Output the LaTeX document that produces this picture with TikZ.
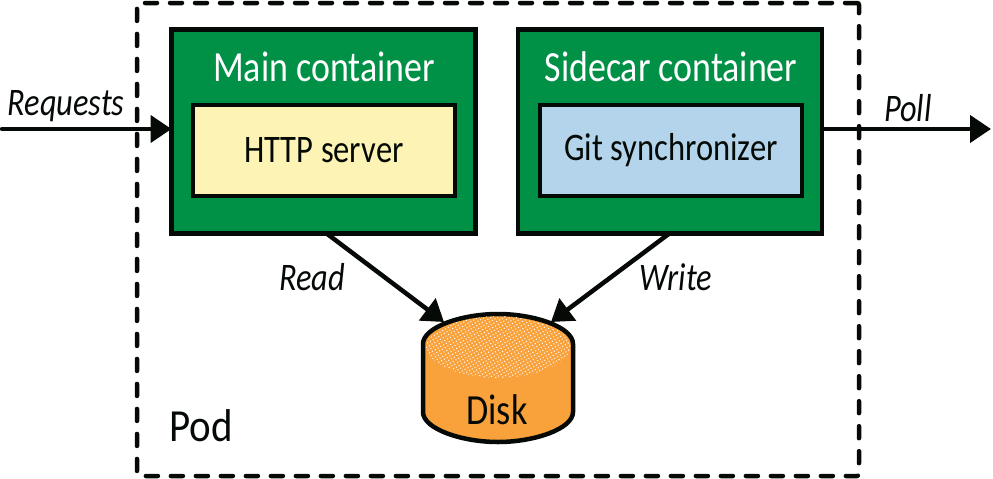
\documentclass[tikz,border=0pt]{standalone}
\usepackage{fontspec}
\setmainfont{Carlito}
\usetikzlibrary{arrows.meta,patterns.meta}
\definecolor{podgreen}{HTML}{009147}
\definecolor{httpyellow}{HTML}{FDF3B4}
\definecolor{gitblue}{HTML}{B3D4EA}
\definecolor{diskorange}{HTML}{F9A23C}
\definecolor{inkblack}{HTML}{050A07}
\tikzset{
  every node/.style={inner sep=0pt,outer sep=0pt,text=inkblack},
  outerbox/.style={draw=inkblack,line width=4.5pt,fill=podgreen,minimum width=304pt,minimum height=204pt,anchor=north west},
  innerbox/.style={draw=inkblack,line width=4.5pt,minimum width=262pt,minimum height=91pt,font=\fontsize{39}{43}\selectfont\addfontfeature{FakeStretch=0.835}},
  title/.style={text=white,font=\fontsize{43}{47}\selectfont\addfontfeature{FakeStretch=0.835}},
  lab/.style={font=\itshape\fontsize{39}{43}\selectfont\addfontfeature{FakeStretch=0.83}},
  conn/.style={draw=inkblack,line width=4.5pt,line cap=round,-{Triangle[length=21pt,width=27pt]}},
}
\begin{document}
\begin{tikzpicture}[x=1pt,y=-1pt]
\useasboundingbox (0,0) rectangle (993,479);
% pod
\node[draw=inkblack,line width=4.5pt,dash pattern=on 12pt off 13pt,rounded corners=2pt,line cap=round,minimum width=722pt,minimum height=473pt,anchor=north west] (pod) at (137,3) {};
% containers
\node[outerbox] (main) at (171.5,29.5) {};
\node[outerbox] (side) at (518,29.5) {};
\node[title] (maint) at (324,67) {Main container};
\node[title] (sidet) at (671,67) {Sidecar container};
\node[innerbox,fill=httpyellow] (http) at (324,150.5) {HTTP server};
\node[innerbox,fill=gitblue] (git) at (671,150.5) {Git synchronizer};
% disk
\path[draw=inkblack,line width=4.5pt,fill=diskorange,line join=round]
  (423,344) .. controls (423,327) and (462,314) .. (498,314)
  .. controls (534,314) and (573,327) .. (573,344)
  -- (573,412) .. controls (573,429) and (534,442) .. (498,442)
  .. controls (462,442) and (423,429) .. (423,412) -- cycle;
\path[pattern={Dots[radius=0.75pt,distance=3.2pt,angle=30]},pattern color=white]
  (426,347) .. controls (426,330) and (462,316) .. (498,316)
  .. controls (534,316) and (570,330) .. (570,347)
  .. controls (570,364) and (534,378) .. (498,378)
  .. controls (462,378) and (426,364) .. (426,347) -- cycle;
\node[font=\fontsize{43}{47}\selectfont\addfontfeature{FakeStretch=0.84}] (disk) at (497,410) {Disk};
\coordinate (diskl) at (444,322);
\coordinate (diskr) at (551,322);
% connectors
\coordinate (reqs) at (2,129);
\coordinate (polle) at (991,129);
\draw[conn] (reqs) -- (reqs -| main.west);
\draw[conn] (polle -| side.east) -- (polle);
\coordinate (mb) at (326,233);
\coordinate (sb) at (670,233);
\draw[conn] (mb) -- (diskl);
\draw[conn] (sb) -- (diskr);
% labels
\node[lab] (lreq) at (66,106) {Requests};
\node[lab] (lpoll) at (908,108) {Poll};
\node[lab] (lread) at (312,277) {Read};
\node[lab] (lwrite) at (676,277) {Write};
\node[font=\fontsize{46}{50}\selectfont\addfontfeature{FakeStretch=0.89}] (lpod) at (201,426) {Pod};
\end{tikzpicture}
\end{document}
